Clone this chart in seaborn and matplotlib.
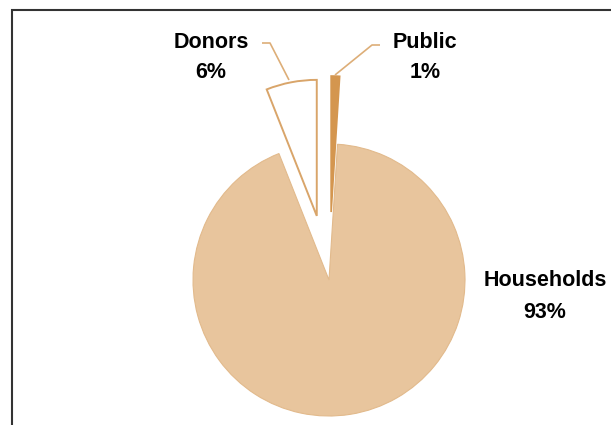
"""
Pie chart: share of spending by source (Households / Donors / Public).
"""

import matplotlib
matplotlib.use("Agg")
import matplotlib.pyplot as plt
from matplotlib.patches import Rectangle
import seaborn as sns

# Data
categories = ["Public", "Households", "Donors"]
shares = [1, 93, 6]
explode = [0.5, 0.0, 0.48]
fills = ["#D4964F", "#E8C59D", "#FFFFFF"]
edges = ["#D4964F", "#E2BA8C", "#D9A56A"]
edge_widths = [1.2, 0.8, 1.4]

sns.set_theme(style="white")
plt.rcParams["font.family"] = ["Liberation Sans", "DejaVu Sans"]

W, H, DPI = 611, 425, 100
CX, CY, R = 329, 280, 136  # pie centre and radius in pixels


def px(x, y):
    """Pixel position in the picture -> data coordinates of the pie axes."""
    return (x - CX) / R, (CY - y) / R


fig = plt.figure(figsize=(W / DPI, H / DPI), dpi=DPI)
ax = fig.add_axes([0, 0, 1, 1])

wedges, _ = ax.pie(
    shares,
    explode=explode,
    colors=fills,
    startangle=90,
    counterclock=False,
    radius=1.0,
)
for w, ec, lw in zip(wedges, edges, edge_widths):
    w.set_edgecolor(ec)
    w.set_linewidth(lw)

ax.set_xlim(-CX / R, (W - CX) / R)
ax.set_ylim(-(H - CY) / R, CY / R)
ax.set_aspect("equal", adjustable="box")
ax.axis("off")

# leader lines
line_col = "#DDAE78"
for pts in ([(262, 43), (270, 43), (289, 80)],
            [(380, 45), (372, 45), (335, 75)]):
    xs, ys = zip(*[px(*p) for p in pts])
    ax.plot(xs, ys, color=line_col, lw=1.2, solid_capstyle="butt")

# labels
label_pos = {
    "Donors": (211, 42, 72),
    "Public": (425, 42, 72),
    "Households": (545, 280, 312),
}
for name, share in zip(categories, shares):
    x, y1, y2 = label_pos[name]
    ax.text(*px(x, y1), name, ha="center", va="center",
            fontsize=15.5, fontweight="bold", color="black")
    ax.text(*px(x, y2), f"{share}%", ha="center", va="center",
            fontsize=15.5, fontweight="bold", color="black")

# frame round the chart (right and bottom edges run off the image)
fig.patches.append(Rectangle((12 / W, -0.05), 1.1, 1 - 10 / H + 0.05,
                             transform=fig.transFigure, fill=False,
                             edgecolor="#333333", linewidth=1.5))

fig.savefig("out.png", dpi=DPI)
